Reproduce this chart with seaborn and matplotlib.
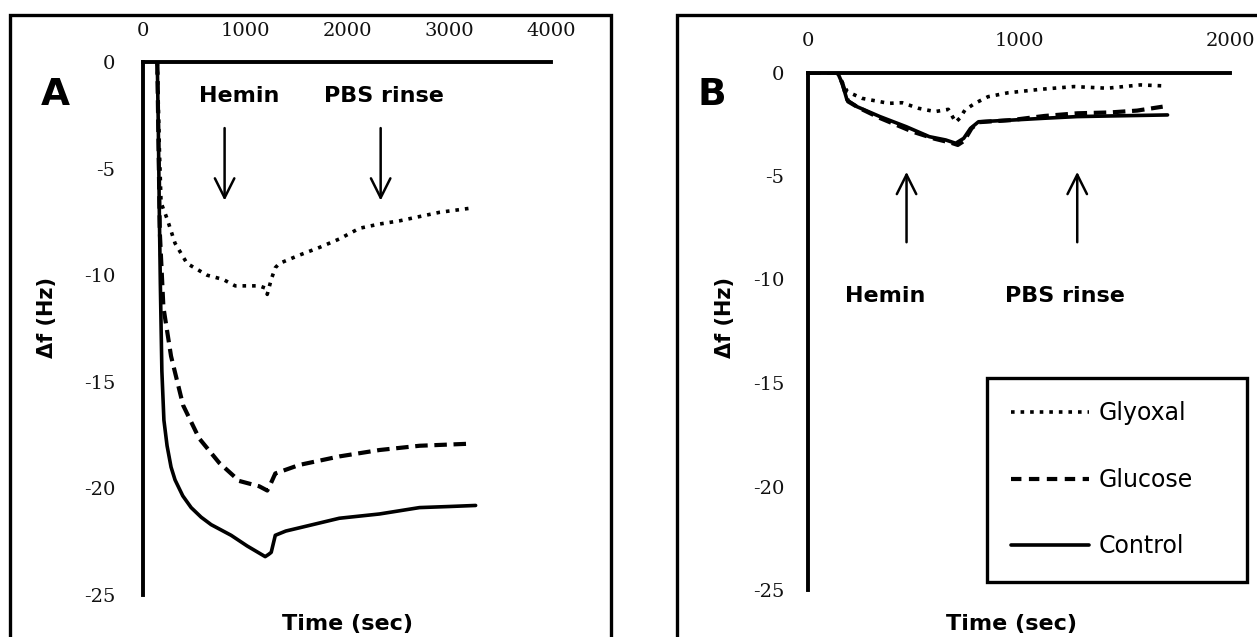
import matplotlib
matplotlib.use("Agg")
import matplotlib.pyplot as plt
from matplotlib.patches import Rectangle
import seaborn as sns

# panel A: frequency shift (Hz) vs time (s)
gly_a_t = [140, 160, 177, 236, 314, 432, 629, 786, 904, 1139, 1198, 1218, 1257, 1297, 1336,
           1532, 1729, 1925, 2122, 2318, 2515, 2711, 2908, 3222]
gly_a_v = [0, -4.0, -6.6, -7.35, -8.5, -9.45, -10.0, -10.2, -10.5, -10.5, -10.6, -10.9, -10.2,
           -9.65, -9.45, -9.06, -8.7, -8.3, -7.8, -7.6, -7.45, -7.25, -7.05, -6.85]
glu_a_t = [140, 165, 200, 275, 393, 550, 747, 943, 1139, 1218, 1250, 1297, 1532, 1925, 2318,
           2711, 3222]
glu_a_v = [0, -8.0, -11.5, -13.8, -16.1, -17.65, -18.8, -19.65, -19.9, -20.1, -19.8, -19.3,
           -18.9, -18.5, -18.2, -18.0, -17.9]
ctrl_a_t = [140, 150, 160, 170, 185, 205, 236, 275, 314, 390, 472, 570, 668, 864, 1021, 1198,
            1230, 1257, 1297, 1400, 1532, 1925, 2318, 2711, 3000, 3261]
ctrl_a_v = [0, -3.0, -7.0, -10.4, -14.5, -16.8, -18.0, -19.0, -19.6, -20.35, -20.9, -21.35,
            -21.7, -22.2, -22.7, -23.2, -23.1, -23.0, -22.2, -22.0, -21.85, -21.4, -21.2,
            -20.9, -20.85, -20.8]

# panel B
gly_b_t = [0, 140, 152, 187, 257, 383, 446, 524, 602, 665, 700, 720, 744, 791, 853, 948,
           1104, 1261, 1418, 1575, 1693]
gly_b_v = [0, 0, -0.3, -0.93, -1.25, -1.49, -1.46, -1.73, -1.89, -1.78, -2.4, -2.2, -1.81,
           -1.49, -1.17, -0.98, -0.81, -0.68, -0.76, -0.6, -0.65]
glu_b_t = [0, 140, 162, 190, 240, 341, 496, 600, 680, 710, 740, 775, 810, 963, 1120, 1276,
           1430, 1560, 1681]
glu_b_v = [0, 0, -0.5, -1.4, -1.7, -2.2, -2.86, -3.2, -3.4, -3.5, -3.3, -2.7, -2.4, -2.3,
           -2.1, -1.97, -1.93, -1.84, -1.65]
ctrl_b_t = [0, 140, 162, 185, 232, 341, 466, 575, 653, 700, 738, 770, 808, 963, 1120, 1276,
            1430, 1704]
ctrl_b_v = [0, 0, -0.52, -1.33, -1.65, -2.13, -2.62, -3.1, -3.26, -3.42, -3.18, -2.7, -2.38,
            -2.3, -2.21, -2.13, -2.1, -2.05]

y_ticks = [0, -5, -10, -15, -20, -25]
x_ticks_a = [0, 1000, 2000, 3000, 4000]
x_ticks_b = [0, 1000, 2000]
# arrow times (s) for the Hemin / PBS rinse marks
arrows_a = [800, 2330]
arrows_b = [467, 1276]

sns.set_style("white")
plt.rcParams["font.family"] = ["DejaVu Sans"]
plt.rcParams["text.color"] = "black"
plt.rcParams["axes.unicode_minus"] = False

fig = plt.figure(figsize=(12.57, 6.37), dpi=100)
W, H = 1257, 637

# panel frames
fig.patches.append(Rectangle((10 / W, -0.02), 601 / W, 1 - 15 / H + 0.02,
                             transform=fig.transFigure, fill=False, lw=2.4, ec="black"))
fig.patches.append(Rectangle((677 / W, -0.02), 0.5, 1 - 15 / H + 0.02,
                             transform=fig.transFigure, fill=False, lw=2.4, ec="black"))

ax_a = fig.add_axes([143 / W, 1 - 595 / H, 408 / W, 533 / H])
ax_b = fig.add_axes([808 / W, 1 - 590 / H, 422 / W, 517.5 / H])

dash = (0, (3, 1.6))


def style_axes(ax, xticks, ypad):
    ax.set_ylim(-25, 0)
    ax.set_xlim(0, xticks[-1])
    ax.set_xticks(xticks)
    ax.set_yticks(y_ticks)
    ax.xaxis.tick_top()
    ax.tick_params(axis="x", length=0, pad=16, labelsize=14, labelcolor="#111111")
    ax.tick_params(axis="y", length=0, pad=ypad, labelsize=14, labelcolor="#111111")
    for lab in ax.get_xticklabels() + ax.get_yticklabels():
        lab.set_family("DejaVu Serif")
    for s in ["bottom", "right"]:
        ax.spines[s].set_visible(False)
    for s in ["top", "left"]:
        ax.spines[s].set_linewidth(2.8)
        ax.spines[s].set_color("black")
    ax.set_xlabel("")
    ax.set_ylabel("")
    ax.patch.set_alpha(0)


sns.lineplot(x=gly_a_t, y=gly_a_v, ax=ax_a, color="black", linestyle=":", lw=2.6,
             estimator=None, sort=False)
sns.lineplot(x=glu_a_t, y=glu_a_v, ax=ax_a, color="black", linestyle=dash, lw=3.0,
             estimator=None, sort=False)
sns.lineplot(x=ctrl_a_t, y=ctrl_a_v, ax=ax_a, color="black", lw=2.6,
             estimator=None, sort=False)
style_axes(ax_a, x_ticks_a, 20)

sns.lineplot(x=gly_b_t, y=gly_b_v, ax=ax_b, color="black", linestyle=":", lw=2.6,
             estimator=None, sort=False, label="Glyoxal")
sns.lineplot(x=glu_b_t, y=glu_b_v, ax=ax_b, color="black", linestyle=dash, lw=3.0,
             estimator=None, sort=False, label="Glucose")
sns.lineplot(x=ctrl_b_t, y=ctrl_b_v, ax=ax_b, color="black", lw=2.6,
             estimator=None, sort=False, label="Control")
style_axes(ax_b, x_ticks_b, 17)

leg = ax_b.legend(loc="upper left", bbox_to_anchor=(0.425, 0.019, 0.615, 0.391), mode="expand",
                  fontsize=17, frameon=True, fancybox=False, framealpha=1, borderpad=1.0,
                  labelspacing=1.8, handlelength=3.3, handletextpad=0.4, borderaxespad=0)
leg.get_frame().set_edgecolor("black")
leg.get_frame().set_linewidth(2.4)
leg.get_lines()[1].set_linestyle((0, (2.5, 1.8)))

arrow_kw = dict(arrowstyle="->,head_length=0.7,head_width=0.35", lw=1.8, color="black",
                mutation_scale=20, shrinkA=0, shrinkB=0)
# panel A arrows point down
for t in arrows_a:
    ax_a.annotate("", xy=(t, -6.5), xytext=(t, -3.1), arrowprops=arrow_kw)
ax_a.text(940, -1.6, "Hemin", ha="center", va="center", fontsize=16, fontweight="bold")
ax_a.text(2360, -1.6, "PBS rinse", ha="center", va="center", fontsize=16, fontweight="bold")
# panel B arrows point up
for t in arrows_b:
    ax_b.annotate("", xy=(t, -4.8), xytext=(t, -8.2), arrowprops=arrow_kw)
ax_b.text(364, -10.8, "Hemin", ha="center", va="center", fontsize=16, fontweight="bold")
ax_b.text(1220, -10.8, "PBS rinse", ha="center", va="center", fontsize=16, fontweight="bold")

fig.text(55 / W, 1 - 95 / H, "A", ha="center", va="center", fontsize=27, fontweight="bold")
fig.text(712 / W, 1 - 95 / H, "B", ha="center", va="center", fontsize=27, fontweight="bold")
fig.text(347 / W, 1 - 624 / H, "Time (sec)", ha="center", va="center", fontsize=16,
         fontweight="bold")
fig.text(1012 / W, 1 - 624 / H, "Time (sec)", ha="center", va="center", fontsize=16,
         fontweight="bold")
fig.text(47 / W, 1 - 318 / H, "\u0394f (Hz)", ha="center", va="center", rotation=90,
         fontsize=15, fontweight="bold")
fig.text(725 / W, 1 - 318 / H, "\u0394f (Hz)", ha="center", va="center", rotation=90,
         fontsize=15, fontweight="bold")

fig.savefig("out.png", dpi=100)
